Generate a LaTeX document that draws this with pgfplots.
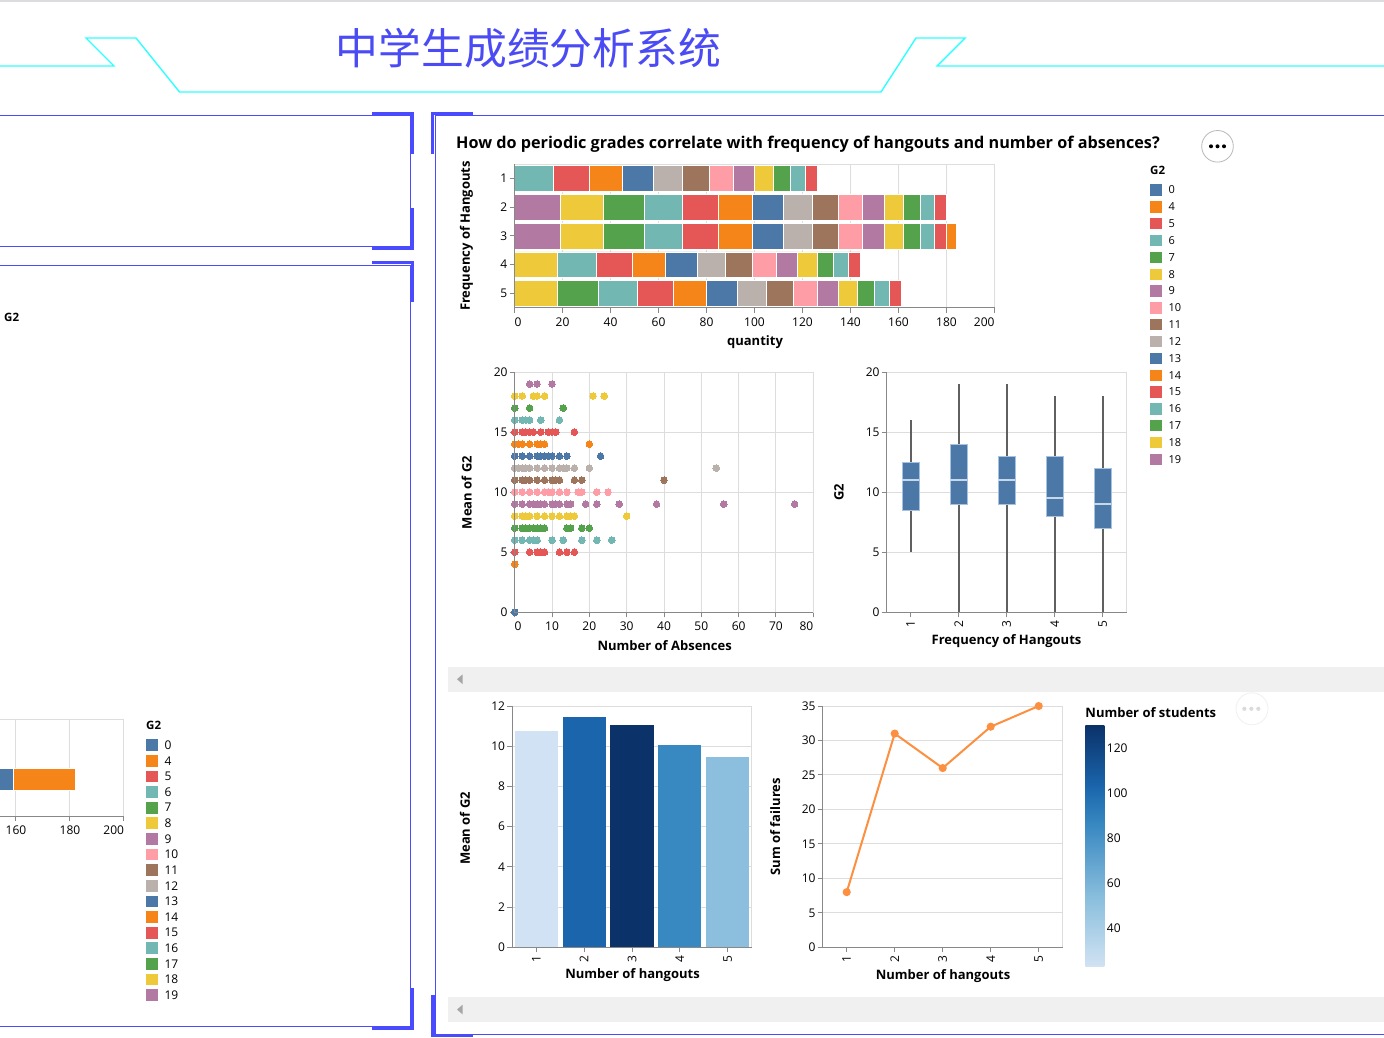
\documentclass[border=0pt]{standalone}
\usepackage{pgfplots}
\usepackage{pgfplotstable}
\pgfplotsset{compat=1.18}
\usepgfplotslibrary{statistics}
\usepackage{fontspec}
\setmainfont{Open Sans}
\newfontfamily\cjk{Noto Sans CJK SC}

\definecolor{c0}{HTML}{4C78A8}
\definecolor{c4}{HTML}{F58518}
\definecolor{c5}{HTML}{E45756}
\definecolor{c6}{HTML}{72B7B2}
\definecolor{c7}{HTML}{54A24B}
\definecolor{c8}{HTML}{EECA3B}
\definecolor{c9}{HTML}{B279A2}
\definecolor{c10}{HTML}{FF9DA6}
\definecolor{c11}{HTML}{9D755D}
\definecolor{c12}{HTML}{BAB0AC}
\colorlet{c13}{c0}\colorlet{c14}{c4}\colorlet{c15}{c5}\colorlet{c16}{c6}
\colorlet{c17}{c7}\colorlet{c18}{c8}\colorlet{c19}{c9}
\definecolor{bl1}{HTML}{D0E2F3}
\definecolor{bl2}{HTML}{1A65AC}
\definecolor{bl3}{HTML}{0B3269}
\definecolor{bl4}{HTML}{3888C1}
\definecolor{bl5}{HTML}{8BBFDD}
\definecolor{lineor}{HTML}{FD9040}
\definecolor{boxedge}{HTML}{A6C2DF}
\definecolor{medc}{HTML}{C8D8EA}
\definecolor{whc}{HTML}{606060}
\definecolor{gridc}{HTML}{DDDDDD}
\definecolor{axc}{HTML}{888888}
\definecolor{frameblue}{HTML}{4A4AFF}
\definecolor{cyanl}{HTML}{30FFFF}
\definecolor{titleblue}{HTML}{4B4BF5}
\definecolor{scrollg}{HTML}{F0F0F0}
\definecolor{topg}{HTML}{DCDCE0}

\newcommand\tlf{\fontsize{12}{14}\selectfont}
\newcommand\atf{\fontsize{13}{15}\selectfont\bfseries}
\newcommand\lgf{\fontsize{11}{13}\selectfont}

\pgfdeclareverticalshading{bluesv}{100bp}{color(0bp)=(bl1); color(25bp)=(bl1); color(39bp)=(bl5); color(54.5bp)=(bl4); color(62.5bp)=(bl2); color(75bp)=(bl3); color(100bp)=(bl3)}

\pgfplotstableread{
r s19 s18 s17 s16 s15 s14 s13 s12 s11 s10 s9 s8 s7 s6 s5 s4
1 0 0 0 16 15 14 13 12 11 10 9 8 7 6 5 0
2 19 18 17 16 15 14 13 12 11 10 9 8 7 6 5 0
3 19 18 17 16 15 14 13 12 11 10 9 8 7 6 5 4
4 0 18 0 16 15 14 13 12 11 10 9 8 7 6 5 0
5 0 18 17 16 15 14 13 12 11 10 9 8 7 6 5 0
}\stk

\pgfplotsset{vg/.style={scale only axis, anchor=north west,
  axis line style={draw=gridc, line width=1pt},
  tick style={draw=axc, line width=1pt},
  tick align=outside, major tick length=5pt, tick pos=left,
  ticklabel style={font=\tlf, inner sep=0pt},
  xticklabel style={yshift=-4.5pt}, yticklabel style={xshift=-2pt},
  major grid style={draw=gridc, line width=1pt},
  /pgf/number format/assume math mode=true,
  after end axis/.code={\draw[axc, line width=1pt] (rel axis cs:0,1) -- (rel axis cs:0,0) -- (rel axis cs:1,0);},
},
rotx/.style={xticklabel style={yshift=1pt, rotate=90, anchor=east}},
dot/.style={only marks, mark=*, mark size=3.3pt, color=#1, mark options={draw=#1, fill=#1, line width=0pt}}
}

\begin{document}
\begin{tikzpicture}
\useasboundingbox (0pt,0pt) rectangle (1384pt,-1038pt);
\clip (0pt,0pt) rectangle (1384pt,-1038pt);
\begin{scope}[x=1pt,y=-1pt]
\fill[white] (0,0) rectangle (1384,1038);
\fill[topg] (0,0) rectangle (1384,2.2);
\draw[cyanl, line width=1.4pt, line join=miter] (0,66) -- (114,66) -- (86,38) -- (136,38) -- (179.5,92) -- (881,92) -- (916,38) -- (965,38) -- (937,66) -- (1384,66);
\node[font=\cjk\fontsize{42.8}{44}\selectfont, text=titleblue] at (528.5,48) {中学生成绩分析系统};
% left panel 1
\draw[frameblue, line width=1pt] (0,116) -- (410.5,116) -- (410.5,246.5) -- (0,246.5);
\fill[frameblue] (372,112) rectangle (414,115);
\fill[frameblue] (411,112) rectangle (414,154);
\fill[frameblue] (411,208) rectangle (414,250);
\fill[frameblue] (372,247) rectangle (414,250);
% left panel 2
\draw[frameblue, line width=1pt] (0,265.3) -- (410.5,265.3) -- (410.5,1026.3) -- (0,1026.3);
\fill[frameblue] (372,261) rectangle (414,264);
\fill[frameblue] (411,261) rectangle (414,302);
\fill[frameblue] (411,988) rectangle (414,1030);
\fill[frameblue] (372,1027) rectangle (414,1030);
% right panel
\draw[frameblue, line width=1pt] (1384,116) -- (435.5,116) -- (435.5,1034) -- (1384,1034);
\fill[frameblue] (431,112) rectangle (473,115);
\fill[frameblue] (431,112) rectangle (434,154);
\fill[frameblue] (431,995) rectangle (434.5,1037);
\fill[frameblue] (431,1034.5) rectangle (473,1037);
% scroll bars
\fill[scrollg] (448.3,666.7) rectangle (1384,691.7);
\fill[gray!70] (457,679.2) -- (462.5,674.5) -- (462.5,684) -- cycle;
\fill[scrollg] (448.3,997) rectangle (1384,1022);
\fill[gray!70] (457,1009.5) -- (462.5,1004.8) -- (462.5,1014.3) -- cycle;
% buttons
\draw[gray!55, fill=white, line width=0.8pt] (1217.5,146.3) circle (15.8);
\foreach \dx in {-6.5,0,6.5} \fill[black] (1217.5+\dx,146.3) circle (2);
\draw[gray!12, fill=white, line width=0.8pt] (1252,708.8) circle (16);
\foreach \dx in {-7,0,7} \fill[gray!28] (1251.3+\dx,708.8) circle (2.1);
\end{scope}

% ===== left partial chart =====
\begin{axis}[vg, at={(-11pt,-719pt)}, width=135pt, height=97pt,
  xmin=150, xmax=200, ymin=0, ymax=1,
  xtick={160,180,200}, xticklabels={160,180,\makebox[0pt][r]{200}},
  ytick=\empty, xmajorgrids, xbar stacked, bar width=0.227]
\addplot[fill=c0, draw=white, line width=0.5pt] coordinates {(159,0.381)};
\addplot[fill=c4, draw=white, line width=0.5pt] coordinates {(23,0.381)};
\end{axis}

% ===== stacked bar =====
\begin{axis}[vg, at={(514.5pt,-164.3pt)}, width=480pt, height=143.4pt,
  xmin=0, xmax=200, ymin=0.5, ymax=5.5, y dir=reverse,
  xtick={0,20,40,60,80,100,120,140,160,180,200},
  xticklabels={\makebox[0pt][l]{0},20,40,60,80,100,120,140,160,180,\makebox[0pt][r]{200}},
  ytick={1,2,3,4,5}, xmajorgrids, xbar stacked, bar width=0.9]
\addplot[fill=c19, draw=white, line width=0.5pt] table[x=s19,y=r]{\stk};
\addplot[fill=c18, draw=white, line width=0.5pt] table[x=s18,y=r]{\stk};
\addplot[fill=c17, draw=white, line width=0.5pt] table[x=s17,y=r]{\stk};
\addplot[fill=c16, draw=white, line width=0.5pt] table[x=s16,y=r]{\stk};
\addplot[fill=c15, draw=white, line width=0.5pt] table[x=s15,y=r]{\stk};
\addplot[fill=c14, draw=white, line width=0.5pt] table[x=s14,y=r]{\stk};
\addplot[fill=c13, draw=white, line width=0.5pt] table[x=s13,y=r]{\stk};
\addplot[fill=c12, draw=white, line width=0.5pt] table[x=s12,y=r]{\stk};
\addplot[fill=c11, draw=white, line width=0.5pt] table[x=s11,y=r]{\stk};
\addplot[fill=c10, draw=white, line width=0.5pt] table[x=s10,y=r]{\stk};
\addplot[fill=c9, draw=white, line width=0.5pt] table[x=s9,y=r]{\stk};
\addplot[fill=c8, draw=white, line width=0.5pt] table[x=s8,y=r]{\stk};
\addplot[fill=c7, draw=white, line width=0.5pt] table[x=s7,y=r]{\stk};
\addplot[fill=c6, draw=white, line width=0.5pt] table[x=s6,y=r]{\stk};
\addplot[fill=c5, draw=white, line width=0.5pt] table[x=s5,y=r]{\stk};
\addplot[fill=c4, draw=white, line width=0.5pt] table[x=s4,y=r]{\stk};
\end{axis}

% ===== scatter =====
\begin{axis}[vg, at={(514.7pt,-372pt)}, width=298.6pt, height=240.3pt,
  xmin=0, xmax=80, ymin=0, ymax=20,
  xtick={0,10,...,80},
  xticklabels={\makebox[0pt][l]{0},10,20,30,40,50,60,70,\makebox[0pt][r]{80}},
  ytick={0,5,...,20}, grid=major, clip=false]
\addplot[dot=c0] coordinates {(0,0)};
\addplot[dot=c4] coordinates {(0,4)};
\addplot[dot=c5] coordinates {(0,5)(4,5)(6,5)(7,5)(8,5)(12,5)(14,5)(16,5)};
\addplot[dot=c6] coordinates {(0,6)(2,6)(4,6)(5,6)(6,6)(10,6)(13,6)(18,6)(22,6)(26,6)};
\addplot[dot=c7] coordinates {(0,7)(2,7)(3,7)(4,7)(5,7)(6,7)(7,7)(8,7)(14,7)(15,7)(18,7)(20,7)};
\addplot[dot=c8] coordinates {(0,8)(2,8)(3,8)(4,8)(6,8)(8,8)(10,8)(12,8)(14,8)(15,8)(16,8)(30,8)};
\addplot[dot=c9] coordinates {(0,9)(2,9)(4,9)(5,9)(6,9)(7,9)(8,9)(10,9)(11,9)(12,9)(14,9)(15,9)(19,9)(22,9)(28,9)(38,9)(56,9)(75,9)};
\addplot[dot=c10] coordinates {(0,10)(2,10)(4,10)(6,10)(8,10)(9,10)(10,10)(12,10)(14,10)(17,10)(18,10)(22,10)(25,10)};
\addplot[dot=c11] coordinates {(0,11)(2,11)(3,11)(4,11)(6,11)(8,11)(10,11)(11,11)(12,11)(16,11)(18,11)(40,11)};
\addplot[dot=c12] coordinates {(0,12)(1,12)(2,12)(3,12)(4,12)(6,12)(8,12)(10,12)(12,12)(13,12)(14,12)(16,12)(20,12)(54,12)};
\addplot[dot=c13] coordinates {(0,13)(2,13)(4,13)(6,13)(7,13)(8,13)(9,13)(10,13)(12,13)(14,13)(23,13)};
\addplot[dot=c14] coordinates {(0,14)(1,14)(2,14)(4,14)(6,14)(7,14)(8,14)(20,14)};
\addplot[dot=c15] coordinates {(0,15)(2,15)(3,15)(4,15)(5,15)(7,15)(9,15)(10,15)(11,15)(16,15)};
\addplot[dot=c16] coordinates {(0,16)(2,16)(3,16)(4,16)(7,16)(12,16)};
\addplot[dot=c17] coordinates {(0,17)(4,17)(13,17)};
\addplot[dot=c18] coordinates {(0,18)(2,18)(5,18)(6,18)(8,18)(21,18)(24,18)};
\addplot[dot=c19] coordinates {(4,19)(6,19)(10,19)};
\end{axis}

% ===== box plot =====
\begin{axis}[vg, rotx, at={(886.7pt,-372pt)}, width=240pt, height=240.3pt,
  xmin=0.5, xmax=5.5, ymin=0, ymax=20,
  xtick={1,2,3,4,5}, ytick={0,5,...,20}, ymajorgrids,
  boxplot/draw direction=y,
  boxplot/whisker extend=0, boxplot/box extend=0.35,
  boxplot/every box/.style={fill=c0, draw=boxedge, line width=1pt},
  boxplot/every median/.style={draw=medc, line width=1.4pt},
  boxplot/every whisker/.style={draw=whc, line width=2pt}]
\addplot[boxplot prepared={draw position=1, median=11, upper quartile=12.5, lower quartile=8.5, upper whisker=16, lower whisker=5}] coordinates {};
\addplot[boxplot prepared={draw position=2, median=11, upper quartile=14, lower quartile=9, upper whisker=19, lower whisker=0}] coordinates {};
\addplot[boxplot prepared={draw position=3, median=11, upper quartile=13, lower quartile=9, upper whisker=19, lower whisker=0}] coordinates {};
\addplot[boxplot prepared={draw position=4, median=9.5, upper quartile=13, lower quartile=8, upper whisker=18, lower whisker=0}] coordinates {};
\addplot[boxplot prepared={draw position=5, median=9, upper quartile=12, lower quartile=7, upper whisker=18, lower whisker=0}] coordinates {};
\end{axis}

% ===== bar chart =====
\begin{axis}[vg, rotx, at={(512.3pt,-706pt)}, width=239.4pt, height=241.3pt,
  xmin=0.5, xmax=5.5, ymin=0, ymax=12,
  xtick={1,2,3,4,5}, ytick={0,2,...,12}, ymajorgrids]
\addplot[ybar, bar width=0.9, bar shift=0pt, fill=bl1, draw=none] coordinates {(1,10.78)};
\addplot[ybar, bar width=0.9, bar shift=0pt, fill=bl2, draw=none] coordinates {(2,11.46)};
\addplot[ybar, bar width=0.9, bar shift=0pt, fill=bl3, draw=none] coordinates {(3,11.08)};
\addplot[ybar, bar width=0.9, bar shift=0pt, fill=bl4, draw=none] coordinates {(4,10.06)};
\addplot[ybar, bar width=0.9, bar shift=0pt, fill=bl5, draw=none] coordinates {(5,9.47)};
\end{axis}

% ===== line chart =====
\begin{axis}[vg, rotx, at={(822.7pt,-706pt)}, width=240pt, height=241.3pt,
  xmin=0.5, xmax=5.5, ymin=0, ymax=35,
  xtick={1,2,3,4,5}, ytick={0,5,...,35}, ymajorgrids, clip=false]
\addplot[lineor, line width=2pt, mark=*, mark size=3pt, mark options={draw=none, fill=lineor}] coordinates {(1,8)(2,31)(3,26)(4,32)(5,35)};
\end{axis}

\begin{scope}[x=1pt,y=-1pt]
% titles
\node[anchor=base west, inner sep=0pt, font=\fontsize{16.2}{18}\selectfont\bfseries] at (456,148.3) {How do periodic grades correlate with frequency of hangouts and number of absences?};
\node[font=\atf] at (755,342.5) {quantity};
\node[font=\atf, rotate=90] at (466.5,236) {Frequency of Hangouts};
\node[font=\atf, rotate=90] at (466.7,492.5) {Mean of G2};
\node[font=\atf] at (664.7,645.8) {Number of Absences};
\node[font=\atf, rotate=90] at (839,492.5) {G2};
\node[font=\atf] at (1006.5,640.8) {Frequency of Hangouts};
\node[font=\atf, rotate=90] at (465,828.3) {Mean of G2};
\node[font=\atf] at (632.5,974.8) {Number of hangouts};
\node[font=\atf, rotate=90] at (775.3,826.7) {Sum of failures};
\node[font=\atf] at (943,976) {Number of hangouts};
% legends G2 right
\node[anchor=west, font=\fontsize{11.5}{13}\selectfont\bfseries, inner sep=0pt] at (1150,170.5) {G2};
\foreach \v [count=\i from 0] in {0,4,5,6,7,8,9,10,11,12,13,14,15,16,17,18,19} {
  \fill[c\v] (1150,190+16.84*\i-5.7) rectangle ++(12,11.4);
  \node[anchor=west, font=\lgf, inner sep=0pt] at (1168.3,190+16.84*\i) {\v};
}
% legend G2 left
\node[anchor=west, font=\fontsize{11.5}{13}\selectfont\bfseries, inner sep=0pt] at (146,725) {G2};
\foreach \v [count=\i from 0] in {0,4,5,6,7,8,9,10,11,12,13,14,15,16,17,18,19} {
  \fill[c\v] (146,745.2+15.625*\i-5.85) rectangle ++(12,11.7);
  \node[anchor=west, font=\fontsize{12}{14}\selectfont, inner sep=0pt] at (164.3,745.2+15.625*\i) {\v};
}
\node[anchor=west, font=\fontsize{11.5}{13}\selectfont\bfseries, inner sep=0pt] at (4,317) {G2};
% colour legend
\node[font=\atf] at (1150.8,712.5) {Number of students};
\shade[shading=bluesv] (1085.3,725.7) rectangle (1104.3,966);
\foreach \n in {40,60,80,100,120} {
  \node[anchor=west, font=\tlf, inner sep=0pt] at (1106.7,966-2.2458*\n+2.2458*23) {\n};
}
\end{scope}
\end{tikzpicture}
\end{document}
